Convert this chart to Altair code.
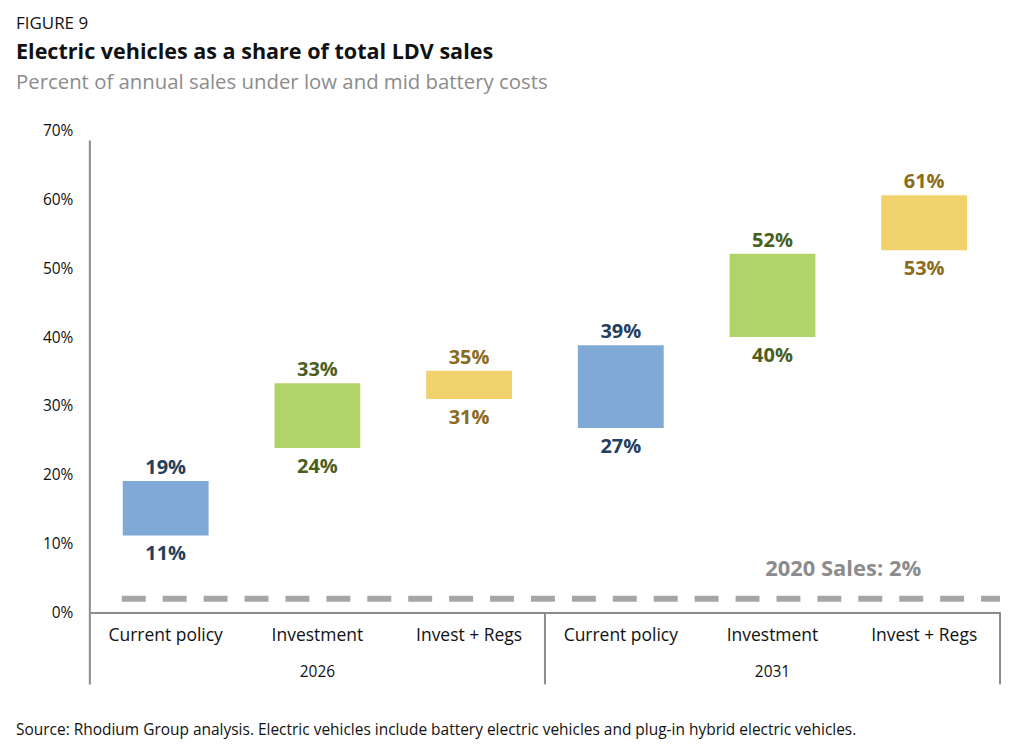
import altair as alt
import pandas as pd

# ---- data ----
years = ["2026", "2026", "2026", "2031", "2031", "2031"]
scenarios = ["Current policy", "Investment", "Invest + Regs",
             "Current policy", "Investment", "Invest + Regs"]
low_vals = [11.2, 23.9, 31.0, 26.8, 40.0, 52.6]
high_vals = [19.1, 33.3, 35.1, 38.8, 52.1, 60.6]
baseline_2020 = 2.0
y_ticks = [0, 10, 20, 30, 40, 50, 60, 70]

bar_colors = {"Current policy": "#80A9D5", "Investment": "#B2D367", "Invest + Regs": "#EFD26C"}
label_colors = {"Current policy": "#243F5E", "Investment": "#4B5E1E", "Invest + Regs": "#8B6B1C"}

keys = [f"{y}|{s}" for y, s in zip(years, scenarios)]
df = pd.DataFrame({"key": keys, "year": years, "scenario": scenarios,
                   "low": low_vals, "high": high_vals})
groups = pd.DataFrame({"year": ["2026", "2031"],
                       "key": ["2026|Investment", "2031|Investment"]})
base_df = pd.DataFrame({"v": [baseline_2020], "key": ["2031|Invest + Regs"],
                        "label": ["2020 Sales: 2%"]})

W, H = 912, 483
FONT = "Open Sans"

xscale = alt.Scale(domain=keys, paddingInner=0.434, paddingOuter=0.217)
yscale = alt.Scale(domain=[0, 70])

xenc = alt.X("key:N", scale=xscale, sort=keys, title=None,
             axis=alt.Axis(labelExpr="split(datum.label, '|')[1]", labelAngle=0,
                           ticks=False, domainColor="#8C8C8C", domainWidth=2,
                           labelFontSize=17.5, labelColor="#111111", labelPadding=14,
                           labelFont=FONT))

color_scale = alt.Scale(domain=list(bar_colors.keys()), range=list(bar_colors.values()))
lcolor_scale = alt.Scale(domain=list(label_colors.keys()), range=list(label_colors.values()))

bars = alt.Chart(df).mark_bar(size=86).encode(
    x=xenc,
    y=alt.Y("low:Q", scale=yscale, title=None,
            axis=alt.Axis(values=y_ticks, labelExpr="datum.value + '%'", grid=False,
                          ticks=False, domain=False, labelFontSize=15.5,
                          labelColor="#111111", labelPadding=17, labelFont=FONT)),
    y2="high:Q",
    color=alt.Color("scenario:N", scale=color_scale, legend=None),
)

labels_base = alt.Chart(df).transform_calculate(
    ht="format(datum.high, '.0f') + '%'",
    lt="format(datum.low, '.0f') + '%'",
)
top_lbl = labels_base.mark_text(fontSize=20, fontWeight="bold", font=FONT,
                                baseline="alphabetic", dy=-7).encode(
    x=alt.X("key:N", scale=xscale, sort=keys),
    y=alt.Y("high:Q", scale=yscale),
    text="ht:N",
    fill=alt.Fill("scenario:N", scale=lcolor_scale, legend=None),
)
bot_lbl = labels_base.mark_text(fontSize=20, fontWeight="bold", font=FONT,
                                baseline="alphabetic", dy=25).encode(
    x=alt.X("key:N", scale=xscale, sort=keys),
    y=alt.Y("low:Q", scale=yscale),
    text="lt:N",
    fill=alt.Fill("scenario:N", scale=lcolor_scale, legend=None),
)

dash = alt.Chart(base_df).mark_rule(color="#A6A6A6", strokeWidth=6,
                                    strokeDash=[24, 17]).encode(
    y=alt.Y("v:Q", scale=yscale),
    x=alt.value(32), x2=alt.value(W),
)
dash_lbl = alt.Chart(base_df).mark_text(fontSize=22, fontWeight="bold", font=FONT,
                                        color="#8C8C8C", align="right",
                                        baseline="alphabetic", dy=-23, dx=-3).encode(
    x=alt.X("key:N", scale=xscale, sort=keys),
    y=alt.Y("v:Q", scale=yscale),
    text="label:N",
)

one = pd.DataFrame({"p": [0]})
sep_left = alt.Chart(one).mark_rule(color="#8C8C8C", strokeWidth=2).encode(
    x=alt.value(0), y=alt.value(10), y2=alt.value(H + 72))
sep_mid = alt.Chart(one).mark_rule(color="#8C8C8C", strokeWidth=2).encode(
    x=alt.value(W / 2), y=alt.value(H), y2=alt.value(H + 72))
sep_right = alt.Chart(one).mark_rule(color="#8C8C8C", strokeWidth=2).encode(
    x=alt.value(W), y=alt.value(H), y2=alt.value(H + 72))

group_lbl = alt.Chart(groups).mark_text(fontSize=15.5, font=FONT, color="#111111",
                                        baseline="middle").encode(
    x=alt.X("key:N", scale=xscale, sort=keys),
    y=alt.value(H + 60),
    text="year:N",
)

fig_lbl = alt.Chart(one).mark_text(text="FIGURE 9", fontSize=17, font=FONT, color="#111111",
                                   align="left", baseline="alphabetic").encode(
    x=alt.value(-74), y=alt.value(-102))
title_lbl = alt.Chart(one).mark_text(text="Electric vehicles as a share of total LDV sales",
                                     fontSize=21.6, fontWeight="bold", font=FONT,
                                     color="#111111", align="left",
                                     baseline="alphabetic").encode(
    x=alt.value(-74), y=alt.value(-72))
sub_lbl = alt.Chart(one).mark_text(text="Percent of annual sales under low and mid battery costs",
                                   fontSize=20.4, font=FONT, color="#8C8C8C", align="left",
                                   baseline="alphabetic").encode(
    x=alt.value(-74), y=alt.value(-42))
foot_lbl = alt.Chart(one).mark_text(
    text="Source: Rhodium Group analysis. Electric vehicles include battery electric vehicles and plug-in hybrid electric vehicles.",
    fontSize=15.5, font=FONT, color="#111111", align="left", baseline="alphabetic").encode(
    x=alt.value(-74), y=alt.value(H + 123))

chart = alt.layer(
    bars, dash, top_lbl, bot_lbl, dash_lbl, sep_left, sep_mid, sep_right, group_lbl,
    fig_lbl, title_lbl, sub_lbl, foot_lbl
).resolve_scale(
    color="independent", fill="independent"
).properties(
    width=W, height=H, background="white",
    autosize=alt.AutoSizeParams(type="none"),
    padding={"left": 82, "top": 122, "right": 20, "bottom": 130},
).configure_view(strokeWidth=0, stroke="transparent")

chart.save("out.html", embed_options={"renderer": "svg", "actions": False})
